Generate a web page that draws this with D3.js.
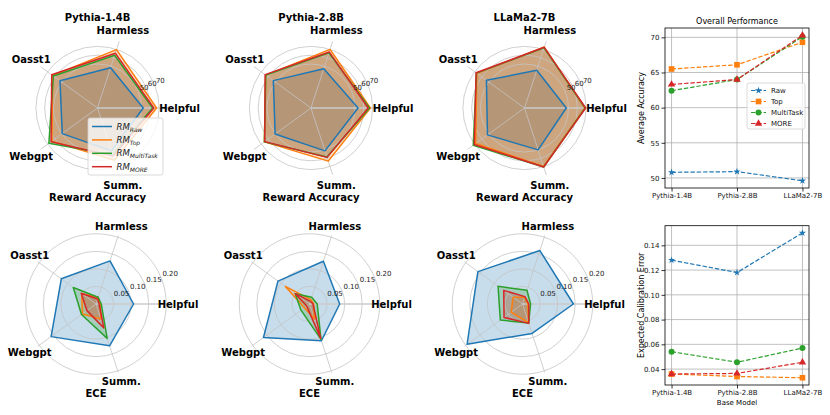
<!DOCTYPE html>
<html>
<head>
    <meta charset="utf-8">
    <title>Reward Accuracy / ECE</title>
    <script src="https://cdn.jsdelivr.net/npm/d3@7"></script>
    <style>
        body { margin: 0; background: #fff; }
        svg { font-family: "DejaVu Sans", sans-serif; }
    </style>
</head>
<body>
<script type="text/javascript">
    var categories = ["Helpful", "Harmless", "Oasst1", "Webgpt", "Summ."];
    var models = ["Pythia-1.4B", "Pythia-2.8B", "LLaMa2-7B"];
    var methods = ["Raw", "Top", "MultiTask", "MORE"];

    // reward accuracy, one row per base model, columns follow categories
    var accRaw       = [[52.0, 48.2, 52.7, 49.5, 51.2], [53.5, 47.0, 52.9, 50.4, 51.2], [47.5, 45.0, 53.5, 52.0, 50.0]];
    var accTop       = [[67.1, 69.8, 63.0, 64.0, 62.5], [67.5, 70.0, 63.5, 65.5, 63.5], [68.6, 72.8, 66.9, 68.7, 69.7]];
    var accMultiTask = [[62.6, 63.0, 62.0, 68.3, 56.0], [66.5, 66.0, 63.5, 65.5, 58.5], [69.0, 72.0, 67.5, 72.0, 70.5]];
    var accMore      = [[64.0, 65.5, 64.3, 65.2, 57.5], [65.0, 67.0, 64.5, 65.0, 59.0], [69.5, 72.5, 68.0, 70.5, 70.5]];

    // expected calibration error, same layout
    var eceRaw       = [[0.107, 0.129, 0.122, 0.158, 0.125], [0.086, 0.128, 0.111, 0.162, 0.110], [0.145, 0.160, 0.157, 0.195, 0.088]];
    var eceTop       = [[0.012, 0.020, 0.050, 0.048, 0.045], [0.012, 0.013, 0.085, 0.018, 0.045], [0.015, 0.020, 0.033, 0.040, 0.056]];
    var eceMultiTask = [[0.015, 0.020, 0.080, 0.051, 0.103], [0.022, 0.020, 0.050, 0.030, 0.106], [0.023, 0.041, 0.086, 0.078, 0.057]];
    var eceMore      = [[0.009, 0.015, 0.052, 0.032, 0.072], [0.010, 0.008, 0.050, 0.010, 0.103], [0.018, 0.022, 0.066, 0.065, 0.058]];

    // overall numbers per base model
    var avgAccRaw = [50.8, 50.9, 49.6];
    var avgAccTop = [65.5, 66.1, 69.3];
    var avgAccMultiTask = [62.4, 64.0, 70.1];
    var avgAccMore = [63.3, 64.0, 70.3];

    var avgEceRaw = [0.128, 0.118, 0.150];
    var avgEceTop = [0.036, 0.034, 0.033];
    var avgEceMultiTask = [0.054, 0.0455, 0.057];
    var avgEceMore = [0.036, 0.0365, 0.0455];

    var accTicks = [50, 60, 70];
    var eceTicks = [0.05, 0.10, 0.15, 0.20];
    var avgAccTicks = [50, 55, 60, 65, 70];
    var avgEceTicks = [0.04, 0.06, 0.08, 0.10, 0.12, 0.14];

    var colors = ["#1f77b4", "#ff7f0e", "#2ca02c", "#d62728"];
    var symbols = [d3.symbolStar, d3.symbolSquare, d3.symbolCircle, d3.symbolTriangle];
    var symbolSize = [16, 32, 28, 24];

    var svg = d3.select("body").append("svg")
        .attr("width", 830)
        .attr("height", 415);

    // 径向雷达图
    function radar(cx, cy, rScale, rMax, ticks, fmt, series, title, xlabel) {
        var g = svg.append("g").attr("transform", "translate(" + cx + "," + cy + ")");
        var n = categories.length;
        var ang = function (i) { return i * 2 * Math.PI / n; };
        var line = d3.lineRadial()
            .angle(function (d, i) { return Math.PI / 2 - ang(i); })
            .radius(function (d) { return rScale(d); })
            .curve(d3.curveLinearClosed);

        // fills
        g.selectAll("path.fill").data(series).enter().append("path")
            .attr("class", "fill")
            .attr("d", line)
            .attr("fill", function (d, i) { return colors[i]; })
            .attr("fill-opacity", 0.25)
            .attr("stroke", "none");

        // grid
        g.selectAll("circle.grid").data(ticks).enter().append("circle")
            .attr("class", "grid")
            .attr("r", function (d) { return rScale(d); })
            .attr("fill", "none")
            .attr("stroke", "#c4c4c4")
            .attr("stroke-width", 0.8);
        g.selectAll("line.spoke").data(categories).enter().append("line")
            .attr("class", "spoke")
            .attr("x1", 0).attr("y1", 0)
            .attr("x2", function (d, i) { return rScale(rMax) * Math.cos(ang(i)); })
            .attr("y2", function (d, i) { return -rScale(rMax) * Math.sin(ang(i)); })
            .attr("stroke", function (d, i) { return i == 0 ? "#cacaca" : "#c4c4c4"; })
            .attr("stroke-width", function (d, i) { return i == 0 ? 1.6 : 0.8; });

        // outlines
        g.selectAll("path.edge").data(series).enter().append("path")
            .attr("class", "edge")
            .attr("d", line)
            .attr("fill", "none")
            .attr("stroke", function (d, i) { return colors[i]; })
            .attr("stroke-width", 1.5)
            .attr("stroke-linejoin", "round");

        // r labels at 22.5 deg
        var la = 22.5 * Math.PI / 180;
        g.selectAll("text.rlab").data(ticks).enter().append("text")
            .attr("class", "rlab")
            .attr("x", function (d) { return rScale(d) * Math.cos(la) + 1.5; })
            .attr("y", function (d) { return -rScale(d) * Math.sin(la) - 1.5; })
            .attr("font-size", 7)
            .attr("fill", "#222")
            .text(fmt);

        // category labels
        g.selectAll("text.cat").data(categories).enter().append("text")
            .attr("class", "cat")
            .attr("x", function (d, i) { return 82 * Math.cos(ang(i)); })
            .attr("y", function (d, i) { return -82 * Math.sin(ang(i)); })
            .attr("dy", "0.35em")
            .attr("text-anchor", "middle")
            .attr("font-size", 10)
            .attr("font-weight", "bold")
            .text(function (d) { return d; });

        if (title) {
            g.append("text").attr("x", 0).attr("y", -87.5)
                .attr("text-anchor", "middle").attr("font-size", 10).attr("font-weight", "bold")
                .text(title);
        }
        g.append("text").attr("x", 0).attr("y", 93)
            .attr("text-anchor", "middle").attr("font-size", 10).attr("font-weight", "bold")
            .text(xlabel);
        return g;
    }

    var accScale = d3.scaleLinear().domain([0, 80]).range([0, 70.4]);
    var eceScale = d3.scaleLinear().domain([0, 0.205]).range([0, 72]);
    var topX = [97.5, 311, 524.5], botX = [96, 309.5, 522.5];

    for (var m = 0; m < models.length; m++) {
        radar(topX[m], 108, accScale, 80, accTicks, function (d) { return d; },
            [accRaw[m], accTop[m], accMultiTask[m], accMore[m]], models[m], "Reward Accuracy");
        radar(botX[m], 304, eceScale, 0.205, eceTicks, d3.format(".2f"),
            [eceRaw[m], eceTop[m], eceMultiTask[m], eceMore[m]], null, "ECE");
    }

    // legend in the first radar
    var leg = svg.append("g");
    leg.append("rect").attr("x", 88).attr("y", 118).attr("width", 75).attr("height", 57)
        .attr("rx", 2).attr("fill", "#fff").attr("fill-opacity", 0.8)
        .attr("stroke", "#d0d0d0").attr("stroke-width", 0.8);
    methods.forEach(function (name, i) {
        var y = 126.5 + i * 13.4;
        leg.append("line").attr("x1", 92).attr("x2", 112).attr("y1", y).attr("y2", y)
            .attr("stroke", colors[i]).attr("stroke-width", 1.5);
        var t = leg.append("text").attr("x", 116.5).attr("y", y + 3)
            .attr("font-style", "italic").attr("font-size", 8.5).attr("fill", "#222");
        t.append("tspan").text("RM");
        t.append("tspan").attr("dy", 2).attr("font-size", 6).text(name);
    });

    // 折线图
    function lineChart(x0, x1, y0, y1, domain, ticks, fmt, series, title, ylabel, xlabel, legend) {
        var g = svg.append("g");
        var x = d3.scalePoint().domain(models).range([x0 + 6.55, x1 - 6.55]);
        var y = d3.scaleLinear().domain(domain).range([y1, y0]);

        // grid
        g.selectAll("line.gx").data(models).enter().append("line")
            .attr("x1", function (d) { return x(d); }).attr("x2", function (d) { return x(d); })
            .attr("y1", y0).attr("y2", y1)
            .attr("stroke", "#b0b0b0").attr("stroke-width", 0.8);
        g.selectAll("line.gy").data(ticks).enter().append("line")
            .attr("x1", x0).attr("x2", x1)
            .attr("y1", function (d) { return y(d); }).attr("y2", function (d) { return y(d); })
            .attr("stroke", "#b0b0b0").attr("stroke-width", 0.8);

        var xAxis = g.append("g").attr("transform", "translate(0," + y1 + ")")
            .call(d3.axisBottom(x).tickSize(3.5).tickPadding(2));
        var yAxis = g.append("g").attr("transform", "translate(" + x0 + ",0)")
            .call(d3.axisLeft(y).tickValues(ticks).tickFormat(fmt).tickSize(3.5).tickPadding(2));
        [xAxis, yAxis].forEach(function (a) {
            a.select(".domain").remove();
            a.selectAll("line").attr("stroke-width", 0.8);
            a.selectAll("text").attr("font-size", 7).attr("font-family", "DejaVu Sans").attr("fill", "#111");
        });

        var line = d3.line()
            .x(function (d, i) { return x(models[i]); })
            .y(function (d) { return y(d); });
        series.forEach(function (s, k) {
            g.append("path").attr("d", line(s))
                .attr("fill", "none").attr("stroke", colors[k]).attr("stroke-width", 1.2)
                .attr("stroke-dasharray", "4.4,1.9");
            g.selectAll("path.mk" + k).data(s).enter().append("path")
                .attr("transform", function (d, i) { return "translate(" + x(models[i]) + "," + y(d) + ")"; })
                .attr("d", d3.symbol().type(symbols[k]).size(symbolSize[k]))
                .attr("fill", colors[k]);
        });

        g.append("rect").attr("x", x0).attr("y", y0).attr("width", x1 - x0).attr("height", y1 - y0)
            .attr("fill", "none").attr("stroke", "#000").attr("stroke-width", 0.8);

        if (title) {
            g.append("text").attr("x", (x0 + x1) / 2).attr("y", y0 - 4.5)
                .attr("text-anchor", "middle").attr("font-size", 8).text(title);
        }
        g.append("text")
            .attr("transform", "translate(" + (x0 - 21) + "," + ((y0 + y1) / 2) + ") rotate(-90)")
            .attr("text-anchor", "middle").attr("font-size", 8).text(ylabel);
        if (xlabel) {
            g.append("text").attr("x", (x0 + x1) / 2).attr("y", y1 + 19.5)
                .attr("text-anchor", "middle").attr("font-size", 7).text(xlabel);
        }

        if (legend) {
            var lg = g.append("g");
            lg.append("rect").attr("x", 747).attr("y", 83).attr("width", 58).attr("height", 46)
                .attr("rx", 2).attr("fill", "#fff").attr("fill-opacity", 0.8)
                .attr("stroke", "#d0d0d0").attr("stroke-width", 0.8);
            methods.forEach(function (name, k) {
                var ly = 90.5 + k * 11;
                lg.append("line").attr("x1", 751).attr("x2", 766).attr("y1", ly).attr("y2", ly)
                    .attr("stroke", colors[k]).attr("stroke-width", 1.2).attr("stroke-dasharray", "4.4,1.9");
                lg.append("path").attr("transform", "translate(758.5," + ly + ")")
                    .attr("d", d3.symbol().type(symbols[k]).size(symbolSize[k]))
                    .attr("fill", colors[k]);
                lg.append("text").attr("x", 771).attr("y", ly + 2.5)
                    .attr("font-size", 7).attr("fill", "#111").text(name);
            });
        }
    }

    lineChart(665, 809, 28, 188, [48.57, 71.33], avgAccTicks, function (d) { return d; },
        [avgAccRaw, avgAccTop, avgAccMultiTask, avgAccMore], "Overall Performance", "Average Accuracy", null, true);
    lineChart(665, 809, 225.7, 385, [0.02715, 0.15585], avgEceTicks, d3.format(".2f"),
        [avgEceRaw, avgEceTop, avgEceMultiTask, avgEceMore], null, "Expected Calibration Error", "Base Model", false);
</script>
</body>
</html>
